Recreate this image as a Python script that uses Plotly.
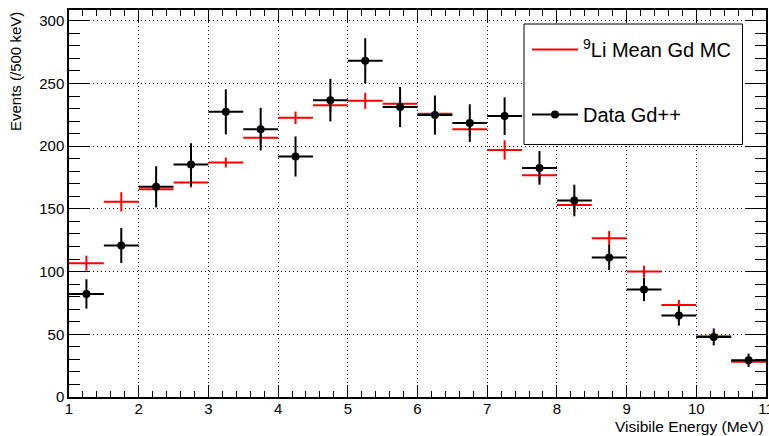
import plotly.graph_objects as go

bin_centers = [1.25, 1.75, 2.25, 2.75, 3.25, 3.75, 4.25, 4.75, 5.25, 5.75,
               6.25, 6.75, 7.25, 7.75, 8.25, 8.75, 9.25, 9.75, 10.25, 10.75]
bin_half_width = [0.25] * 20

mc_values = [106.7, 155.6, 165.7, 171.0, 187.0, 206.7, 222.6, 232.7, 236.2, 233.8,
             225.8, 213.6, 197.0, 176.9, 153.2, 126.6, 100.0, 73.4, 48.4, 28.2]
mc_errors = [6.0, 7.7, 4.0, 4.0, 4.0, 4.5, 5.0, 5.5, 6.4, 5.5,
             5.5, 5.5, 7.7, 5.5, 5.5, 5.7, 4.7, 4.0, 3.5, 3.0]

data_values = [82.2, 120.8, 167.6, 185.4, 227.4, 213.6, 191.8, 236.7, 268.1, 231.2,
               224.8, 218.4, 224.0, 182.7, 156.7, 111.2, 85.7, 64.9, 47.9, 29.3]
data_errors = [11.7, 14.0, 16.4, 17.0, 18.0, 17.0, 16.0, 17.0, 18.0, 16.0,
               15.6, 15.0, 15.0, 13.4, 12.6, 10.0, 9.3, 8.0, 6.8, 5.3]

mc_label = "<sup>9</sup>Li Mean Gd MC"
data_label = "Data Gd++"
x_title = "Visibile Energy (MeV)"
y_title = "Events (/500 keV)"

FONT = "Liberation Sans, Arial, Helvetica, sans-serif"

fig = go.Figure()

# MC histogram (red crosses)
fig.add_trace(go.Scatter(
    x=bin_centers, y=mc_values, mode="markers",
    marker=dict(size=1, color="red"),
    error_x=dict(type="data", array=bin_half_width, color="red", thickness=2, width=0),
    error_y=dict(type="data", array=mc_errors, color="red", thickness=2, width=0),
    showlegend=False, hoverinfo="skip",
))
# Data (black points)
fig.add_trace(go.Scatter(
    x=bin_centers, y=data_values, mode="markers",
    marker=dict(size=8, color="black"),
    error_x=dict(type="data", array=bin_half_width, color="black", thickness=2, width=0),
    error_y=dict(type="data", array=data_errors, color="black", thickness=2, width=0),
    showlegend=False, hoverinfo="skip",
))
# Legend entries
fig.add_trace(go.Scatter(
    x=[None], y=[None], mode="lines", name=mc_label,
    line=dict(color="red", width=2), legendgroup="mc",
))
fig.add_trace(go.Scatter(
    x=[None], y=[None], mode="lines+markers", name=data_label,
    line=dict(color="black", width=2), marker=dict(size=8, color="black"),
    legendgroup="data",
))

axis_common = dict(
    showline=True, linecolor="black", linewidth=1.5, mirror="ticks",
    ticks="inside", tickcolor="black", tickwidth=1,
    showgrid=True, gridcolor="black", gridwidth=1, griddash="1px,3px",
    zeroline=False, automargin=False,
    tickfont=dict(family=FONT, size=15, color="black"),
)

fig.update_xaxes(
    range=[1, 11], dtick=1, tick0=1, ticklen=12, ticklabelstandoff=-3,
    ticklabeloverflow="allow",
    minor=dict(dtick=0.2, ticklen=6, ticks="inside", tickcolor="black", tickwidth=1, showgrid=False),
    **axis_common,
)
fig.update_yaxes(
    range=[0, 308.6], dtick=50, tick0=0, ticklen=20,
    minor=dict(dtick=10, ticklen=11, ticks="inside", tickcolor="black", tickwidth=1, showgrid=False),
    **axis_common,
)

fig.add_annotation(
    text=x_title, xref="paper", yref="paper", x=1, y=0,
    xanchor="right", yanchor="top", yshift=-19, showarrow=False,
    font=dict(family=FONT, size=15.5, color="black"),
)
fig.add_annotation(
    text=y_title, xref="paper", yref="paper", x=0, y=1, textangle=-90,
    xanchor="right", yanchor="top", xshift=-43, showarrow=False,
    font=dict(family=FONT, size=15, color="black"),
)

# legend frame
fig.add_shape(
    type="rect", xref="paper", yref="paper",
    x0=0.6528, x1=0.9663, y0=0.6525, y1=0.9638,
    line=dict(color="black", width=1), fillcolor="white", layer="above",
)

fig.update_layout(
    width=769, height=436,
    margin=dict(l=69, r=3, t=10, b=39, autoexpand=False),
    paper_bgcolor="white", plot_bgcolor="white",
    font=dict(family=FONT, color="black"),
    legend=dict(
        x=0.6571, y=0.9483, xanchor="left", yanchor="top",
        bgcolor="rgba(0,0,0,0)", borderwidth=0,
        font=dict(family=FONT, size=20, color="black"),
        tracegroupgap=36, traceorder="grouped", itemwidth=46,
    ),
)

fig.write_html(
    "out.html",
    config={"displayModeBar": False},
    post_script="document.body.style.margin='0';document.body.style.overflow='hidden';",
)
